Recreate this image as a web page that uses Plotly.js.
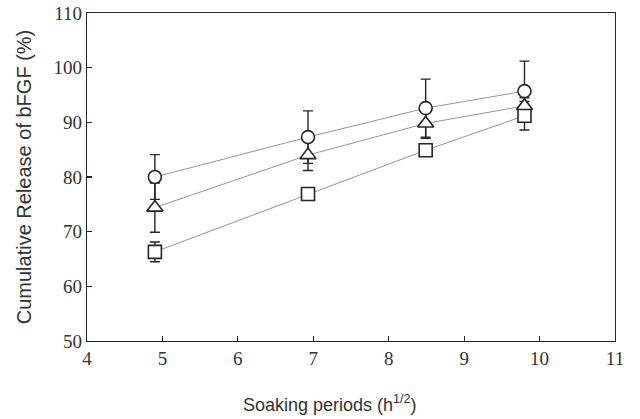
<!DOCTYPE html>
<html>
<head>
<meta charset="utf-8">
<script src="https://cdn.plot.ly/plotly-3.0.1.min.js"></script>
<style>
  html, body { margin: 0; padding: 0; background: #fff; }
  #chart { width: 640px; height: 419px; }
</style>
</head>
<body>
<div id="chart"></div>
<script>
// Soaking periods expressed as square root of hours (24, 48, 72, 96 h)
const soakingSqrtH = [4.9, 6.93, 8.49, 9.8];

// Cumulative release (%) and standard deviations for each formulation
const circleRelease = [80.0, 87.3, 92.6, 95.7];
const circleSD      = [4.1, 4.8, 5.3, 5.5];

const triangleRelease = [74.4, 84.0, 89.8, 93.0];
const triangleSD      = [4.5, 2.8, 2.7, 1.5];

const squareRelease = [66.3, 76.9, 84.9, 91.2];
const squareSD      = [1.8, 0.8, 0.8, 2.6];

const xTitle = 'Soaking periods (h<sup>1/2</sup>)';
const yTitle = 'Cumulative Release of bFGF (%)';

const ink = '#262626';

const groups = [
  { y: squareRelease,   sd: squareSD,   symbol: 'square',      size: 13 },
  { y: triangleRelease, sd: triangleSD, symbol: 'triangle-up', size: 14 },
  { y: circleRelease,   sd: circleSD,   symbol: 'circle',      size: 13 }
];

// Error bars go underneath, so the white-filled markers sit on top of them
const errorTraces = groups.map(g => ({
  x: soakingSqrtH,
  y: g.y,
  type: 'scatter',
  mode: 'markers',
  marker: { size: 1, color: 'rgba(0,0,0,0)' },
  error_y: { type: 'data', array: g.sd, visible: true, color: ink, thickness: 1.4, width: 5 },
  showlegend: false,
  hoverinfo: 'skip'
}));

const lineTraces = groups.map(g => ({
  x: soakingSqrtH,
  y: g.y,
  type: 'scatter',
  mode: 'lines',
  line: { color: '#8a8a8a', width: 0.9 },
  showlegend: false,
  hoverinfo: 'skip'
}));

const markerTraces = groups.map(g => ({
  x: soakingSqrtH,
  y: g.y,
  type: 'scatter',
  mode: 'markers',
  marker: {
    symbol: g.symbol,
    size: g.size,
    color: '#ffffff',
    line: { color: ink, width: 1.6 }
  },
  showlegend: false,
  hoverinfo: 'x+y'
}));

const data = [...errorTraces, ...lineTraces, ...markerTraces];

const tickFont = { family: '"Liberation Serif", "Times New Roman", serif', size: 19, color: '#333' };
const sansFont = { family: '"Liberation Sans", Arial, sans-serif', size: 19, color: '#333' };

const axisStyle = {
  ticks: 'inside',
  ticklen: 5,
  tickwidth: 1.2,
  tickcolor: ink,
  showline: true,
  linecolor: ink,
  linewidth: 1.2,
  mirror: true,
  showgrid: false,
  zeroline: false,
  tickfont: tickFont
};

const layout = {
  width: 640,
  height: 419,
  margin: { l: 87, r: 25, t: 13, b: 78 },
  paper_bgcolor: '#fff',
  plot_bgcolor: '#fff',
  xaxis: Object.assign({
    range: [4, 11],
    tickvals: [4, 5, 6, 7, 8, 9, 10, 11]
  }, axisStyle),
  yaxis: Object.assign({
    range: [50, 110],
    tickvals: [50, 60, 70, 80, 90, 100, 110],
    title: { text: yTitle, font: Object.assign({}, sansFont, { size: 20 }), standoff: 16 }
  }, axisStyle),
  annotations: [{
    text: xTitle,
    xref: 'paper', yref: 'paper',
    x: 0.46, y: -0.19,
    xanchor: 'center', yanchor: 'middle',
    showarrow: false,
    font: Object.assign({}, sansFont, { size: 18 })
  }]
};

Plotly.newPlot('chart', data, layout, { staticPlot: true, displayModeBar: false });
</script>
</body>
</html>
